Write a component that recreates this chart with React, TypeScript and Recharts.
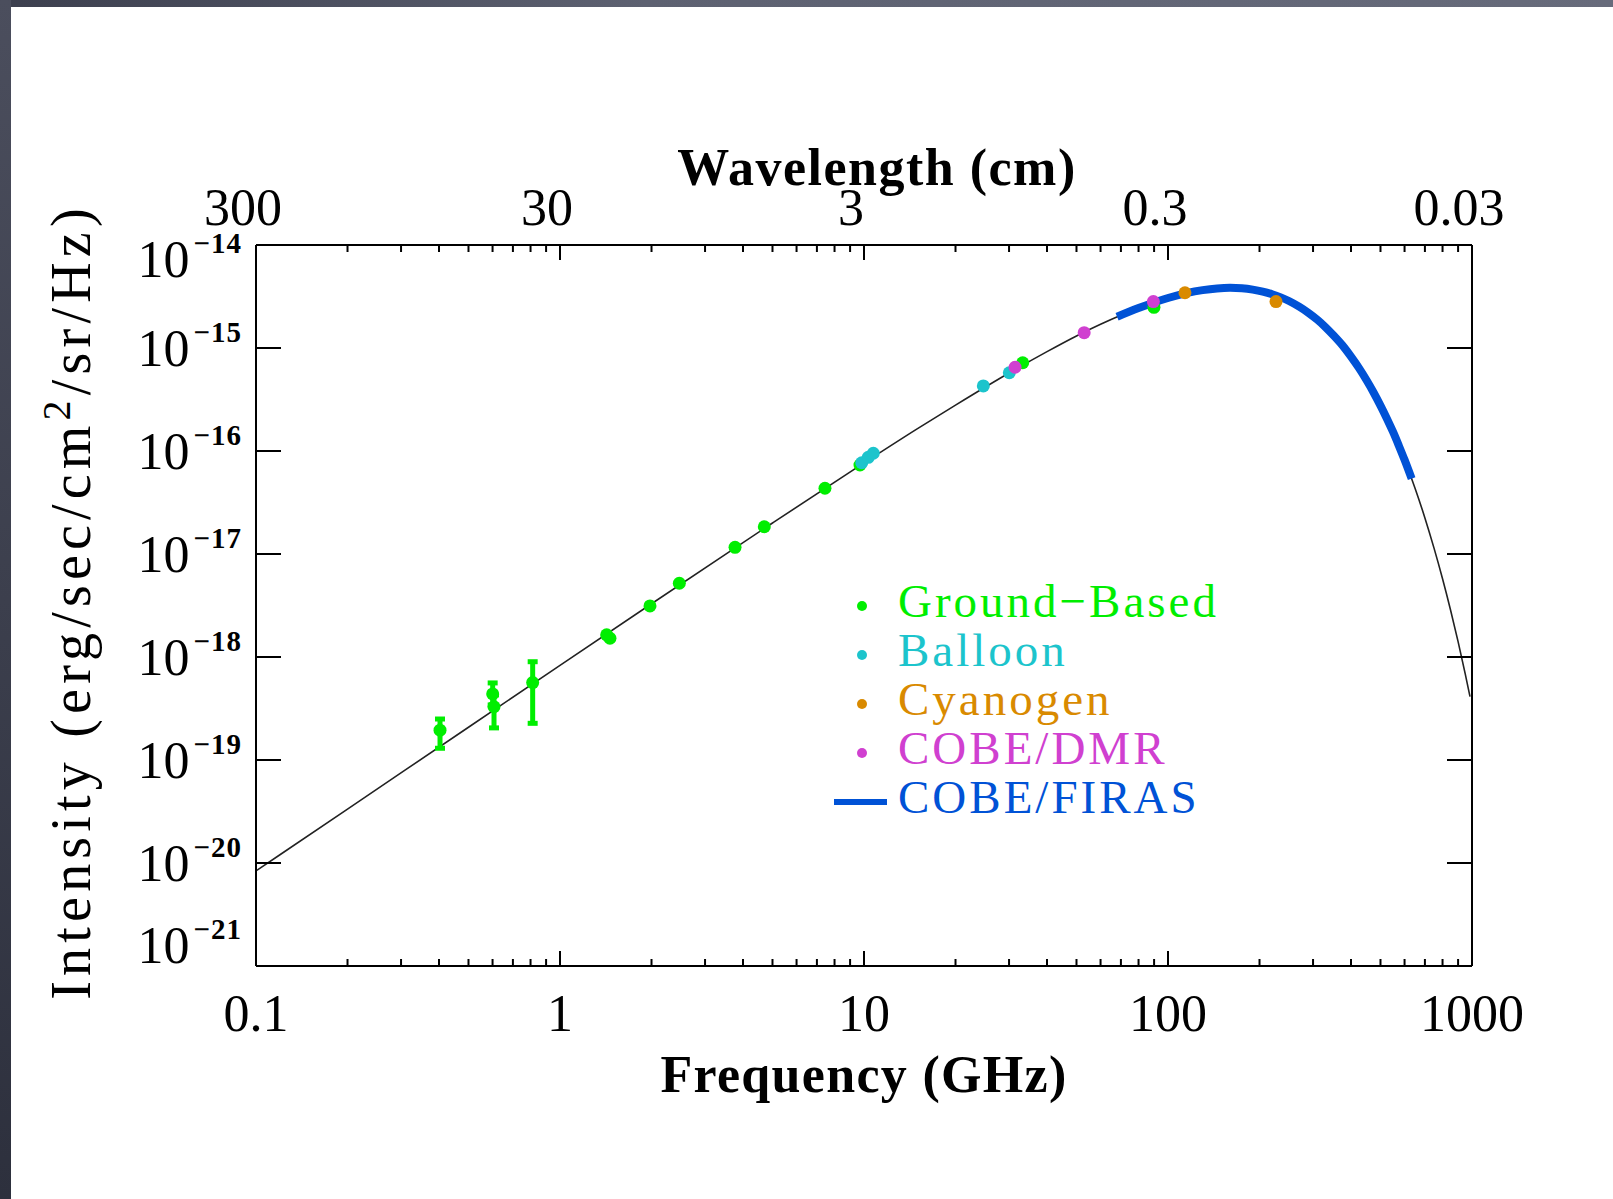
import React from 'react';
import { ComposedChart, Line, Scatter, XAxis, YAxis, ErrorBar, Legend, Label } from 'recharts';

// ---------- data ----------
// Blackbody curve (black line): frequency (GHz) / intensity (erg/s/cm^2/sr/Hz)
const CURVE_FREQ = [0.1, 0.2, 0.5, 1, 2, 5, 10, 15, 20, 30, 40, 50, 60, 70, 85, 100, 120, 140, 160, 180, 200, 225, 250, 275, 300, 350, 400, 450, 500, 550, 600, 650, 700, 750, 800, 850, 900, 950, 985];
const CURVE_INTENSITY = [8.37e-21, 3.34e-20, 2.08e-19, 8.3e-19, 3.29e-18, 2.0e-17, 7.66e-17, 1.65e-16, 2.79e-16, 5.72e-16, 9.23e-16, 1.31e-15, 1.7e-15, 2.08e-15, 2.61e-15, 3.06e-15, 3.5e-15, 3.76e-15, 3.84e-15, 3.77e-15, 3.59e-15, 3.26e-15, 2.86e-15, 2.44e-15, 2.03e-15, 1.33e-15, 8.24e-16, 4.86e-16, 2.76e-16, 1.53e-16, 8.21e-17, 4.33e-17, 2.24e-17, 1.14e-17, 5.75e-18, 2.86e-18, 1.41e-18, 6.85e-19, 4.12e-19];

// COBE/FIRAS (thick blue band)
const FIRAS_FREQ = [68, 80, 90, 100, 115, 130, 145, 160, 175, 190, 205, 220, 235, 250, 270, 290, 310, 330, 350, 375, 400, 425, 450, 475, 500, 525, 550, 575, 600, 633];
const FIRAS_INTENSITY = [2.01e-15, 2.44e-15, 2.77e-15, 3.06e-15, 3.41e-15, 3.65e-15, 3.79e-15, 3.84e-15, 3.8e-15, 3.69e-15, 3.53e-15, 3.33e-15, 3.1e-15, 2.86e-15, 2.52e-15, 2.19e-15, 1.88e-15, 1.59e-15, 1.33e-15, 1.06e-15, 8.24e-16, 6.37e-16, 4.86e-16, 3.68e-16, 2.76e-16, 2.06e-16, 1.53e-16, 1.12e-16, 8.21e-17, 5.39e-17];

// Ground-based points without visible error bars
const GROUND_FREQ = [1.424, 1.46, 1.977, 2.469, 3.765, 4.699, 7.44, 9.7, 33.27, 89.9];
const GROUND_INTENSITY = [1.64e-18, 1.52e-18, 3.13e-18, 5.2e-18, 1.16e-17, 1.84e-17, 4.35e-17, 7.31e-17, 7.19e-16, 2.48e-15];
// Ground-based points with error bars
const GROUND_ERR_FREQ = [0.403, 0.6005, 0.6066, 0.813];
const GROUND_ERR_INTENSITY = [1.95e-19, 4.38e-19, 3.29e-19, 5.64e-19];
const GROUND_ERR_LOW = [1.3e-19, 3.42e-19, 2.05e-19, 2.27e-19];
const GROUND_ERR_HIGH = [2.5e-19, 5.6e-19, 4.28e-19, 9.0e-19];

const BALLOON_FREQ = [9.83, 10.33, 10.73, 24.69, 30.06];
const BALLOON_INTENSITY = [7.69e-17, 8.69e-17, 9.51e-17, 4.28e-16, 5.75e-16];

const CYANOGEN_FREQ = [113.7, 226.6];
const CYANOGEN_INTENSITY = [3.44e-15, 2.82e-15];

const DMR_FREQ = [31.4, 53.0, 89.5];
const DMR_INTENSITY = [6.5e-16, 1.41e-15, 2.82e-15];

// ---------- ticks / labels ----------
const FREQ_TICKS = [0.1, 0.2, 0.3, 0.4, 0.5, 0.6, 0.7, 0.8, 0.9, 1, 2, 3, 4, 5, 6, 7, 8, 9, 10, 20, 30, 40, 50, 60, 70, 80, 90, 100, 200, 300, 400, 500, 600, 700, 800, 900, 1000];
const MAJOR_FREQ = [0.1, 1, 10, 100, 1000];
const FREQ_LABELS = ['0.1', '1', '10', '100', '1000'];
const WAVELENGTH_LABELS = ['300', '30', '3', '0.3', '0.03'];
const INTENSITY_TICKS = [1e-21, 1e-20, 1e-19, 1e-18, 1e-17, 1e-16, 1e-15, 1e-14];
const INTENSITY_EXPONENTS = ['\u221221', '\u221220', '\u221219', '\u221218', '\u221217', '\u221216', '\u221215', '\u221214'];

const LEGEND_NAMES = ['Ground\u2212Based', 'Balloon', 'Cyanogen', 'COBE/DMR', 'COBE/FIRAS'];
const COLORS = { ground: '#00ee00', balloon: '#1cc4cc', cyanogen: '#d98a00', dmr: '#d040d0', firas: '#0052d6' };
const LEGEND_COLORS = [COLORS.ground, COLORS.balloon, COLORS.cyanogen, COLORS.dmr, COLORS.firas];

// ---------- tables built from the arrays ----------
const pairs = (f: number[], v: number[]) => f.map((nu, i) => ({ nu, I: v[i] }));
const curveData = pairs(CURVE_FREQ, CURVE_INTENSITY);
const firasData = pairs(FIRAS_FREQ, FIRAS_INTENSITY);
const groundData = pairs(GROUND_FREQ, GROUND_INTENSITY);
const groundErrData = GROUND_ERR_FREQ.map((nu, i) => ({
  nu,
  I: GROUND_ERR_INTENSITY[i],
  err: [GROUND_ERR_INTENSITY[i] - GROUND_ERR_LOW[i], GROUND_ERR_HIGH[i] - GROUND_ERR_INTENSITY[i]],
}));
const balloonData = pairs(BALLOON_FREQ, BALLOON_INTENSITY);
const cyanogenData = pairs(CYANOGEN_FREQ, CYANOGEN_INTENSITY);
const dmrData = pairs(DMR_FREQ, DMR_INTENSITY);

const SERIF = '"Liberation Serif", "DejaVu Serif", serif';

const dot = (color: string) => (p: any) => <circle cx={p.cx} cy={p.cy} r={6.5} fill={color} />;

const BottomTick = (p: any) => {
  const idx = MAJOR_FREQ.indexOf(p.payload.value);
  const major = idx >= 0;
  return (
    <g>
      <line x1={p.x} x2={p.x} y1={p.y} y2={p.y - (major ? 15 : 7)} stroke="#000" strokeWidth={2} />
      {major && (
        <text x={p.x} y={p.y + 65} textAnchor="middle" fontFamily={SERIF} fontSize={52} fill="#000">
          {FREQ_LABELS[idx]}
        </text>
      )}
    </g>
  );
};

const TopTick = (p: any) => {
  const idx = MAJOR_FREQ.indexOf(p.payload.value);
  const major = idx >= 0;
  return (
    <g>
      <line x1={p.x} x2={p.x} y1={p.y} y2={p.y + (major ? 15 : 7)} stroke="#000" strokeWidth={2} />
      {major && (
        <text x={p.x - 13} y={p.y - 20} textAnchor="middle" fontFamily={SERIF} fontSize={52} fill="#000">
          {WAVELENGTH_LABELS[idx]}
        </text>
      )}
    </g>
  );
};

const LeftTick = (p: any) => {
  const idx = INTENSITY_TICKS.indexOf(p.payload.value);
  const base = idx === 0 ? -3 : idx === INTENSITY_TICKS.length - 1 ? 32 : 18;
  return (
    <g>
      <line x1={p.x} x2={p.x + 25} y1={p.y} y2={p.y} stroke="#000" strokeWidth={2} />
      <text x={p.x - 14} y={p.y + base} textAnchor="end" fontFamily={SERIF} fontSize={52} fill="#000">
        <tspan>10</tspan>
        <tspan dx={4} dy={-24} fontSize={29} fontWeight="bold" letterSpacing={1}>{INTENSITY_EXPONENTS[idx]}</tspan>
      </text>
    </g>
  );
};

const RightTick = (p: any) => (
  <line x1={p.x} x2={p.x - 25} y1={p.y} y2={p.y} stroke="#000" strokeWidth={2} />
);

const LegendContent = () => (
  <div style={{ fontFamily: SERIF, fontSize: 47, letterSpacing: 3 }}>
    {LEGEND_NAMES.map((name, i) => (
      <div key={name} style={{ display: 'flex', alignItems: 'center', height: 49 }}>
        <svg width={70} height={49} style={{ display: 'block', flex: 'none' }}>
          {i < 4 ? (
            <circle cx={42} cy={29} r={5} fill={LEGEND_COLORS[i]} />
          ) : (
            <line x1={14} x2={67} y1={29} y2={29} stroke={LEGEND_COLORS[i]} strokeWidth={6} />
          )}
        </svg>
        <span style={{ color: LEGEND_COLORS[i], lineHeight: '49px', marginLeft: 8, whiteSpace: 'nowrap' }}>{name}</span>
      </div>
    ))}
  </div>
);

const axisLine = { stroke: '#000', strokeWidth: 2 };

export default function App() {
  return (
    <div style={{ position: 'absolute', left: 0, top: 0, width: 1613, height: 1199, background: '#fff', overflow: 'hidden' }}>
      <div style={{ position: 'absolute', left: 0, top: 0 }}>
        <ComposedChart width={1613} height={1199} margin={{ top: 205, right: 131, bottom: 173, left: 136 }}>
          <XAxis
            dataKey="nu"
            type="number"
            scale="log"
            domain={[0.1, 1000]}
            allowDataOverflow
            ticks={FREQ_TICKS}
            interval={0}
            tick={BottomTick}
            tickLine={false}
            tickSize={0}
            tickMargin={0}
            axisLine={axisLine}
            height={60}
          >
            <Label
              content={(p: any) => {
                const vb = p.viewBox || { x: 256, y: 966, width: 1216, height: 60 };
                return (
                  <text x={vb.x + vb.width / 2} y={vb.y + 126} textAnchor="middle" fontFamily={SERIF} fontWeight="bold" fontSize={52} letterSpacing={1.3} fill="#000">
                    Frequency (GHz)
                  </text>
                );
              }}
            />
          </XAxis>
          <XAxis
            xAxisId="top"
            orientation="top"
            dataKey="nu"
            type="number"
            scale="log"
            domain={[0.1, 1000]}
            allowDataOverflow
            ticks={FREQ_TICKS}
            interval={0}
            tick={TopTick}
            tickLine={false}
            tickSize={0}
            tickMargin={0}
            axisLine={axisLine}
            height={40}
          >
            <Label
              content={(p: any) => {
                const vb = p.viewBox || { x: 256, y: 205, width: 1216, height: 40 };
                return (
                  <text x={vb.x + vb.width / 2 + 13} y={vb.y + vb.height - 60} textAnchor="middle" fontFamily={SERIF} fontWeight="bold" fontSize={52} letterSpacing={1.5} fill="#000">
                    Wavelength (cm)
                  </text>
                );
              }}
            />
          </XAxis>
          <YAxis
            type="number"
            scale="log"
            domain={[1e-21, 1e-14]}
            allowDataOverflow
            ticks={INTENSITY_TICKS}
            interval={0}
            tick={LeftTick}
            tickLine={false}
            tickSize={0}
            tickMargin={0}
            axisLine={axisLine}
            width={120}
          >
            <Label
              content={(p: any) => {
                const vb = p.viewBox || { x: 136, y: 245, width: 120, height: 721 };
                const cx = vb.x - 46;
                const cy = vb.y + vb.height / 2 - 4;
                return (
                  <text transform={`rotate(-90 ${cx} ${cy})`} x={cx} y={cy} textAnchor="middle" fontFamily={SERIF} fontSize={56} letterSpacing={5.2} fill="#000">
                    <tspan>Intensity (erg/sec/cm</tspan>
                    <tspan dy={-20} fontSize={40}>2</tspan>
                    <tspan dy={20}>/sr/Hz)</tspan>
                  </text>
                );
              }}
            />
          </YAxis>
          <YAxis
            yAxisId="right"
            orientation="right"
            type="number"
            scale="log"
            domain={[1e-21, 1e-14]}
            allowDataOverflow
            ticks={INTENSITY_TICKS}
            interval={0}
            tick={RightTick}
            tickLine={false}
            tickSize={0}
            tickMargin={0}
            axisLine={axisLine}
            width={10}
          />
          <Line data={curveData} dataKey="I" type="monotone" stroke="#222" strokeWidth={1.6} dot={false} isAnimationActive={false} legendType="none" />
          <Scatter name="Ground-Based" data={groundErrData} dataKey="I" fill={COLORS.ground} shape={dot(COLORS.ground)} isAnimationActive={false} legendType="none">
            <ErrorBar dataKey="err" direction="y" stroke={COLORS.ground} strokeWidth={5} width={5} isAnimationActive={false} />
          </Scatter>
          <Scatter name="Ground-Based" data={groundData} dataKey="I" fill={COLORS.ground} shape={dot(COLORS.ground)} isAnimationActive={false} />
          <Scatter name="Balloon" data={balloonData} dataKey="I" fill={COLORS.balloon} shape={dot(COLORS.balloon)} isAnimationActive={false} />
          <Scatter name="Cyanogen" data={cyanogenData} dataKey="I" fill={COLORS.cyanogen} shape={dot(COLORS.cyanogen)} isAnimationActive={false} />
          <Scatter name="COBE/DMR" data={dmrData} dataKey="I" fill={COLORS.dmr} shape={dot(COLORS.dmr)} isAnimationActive={false} />
          <Line name="COBE/FIRAS" data={firasData} dataKey="I" type="monotone" stroke={COLORS.firas} strokeWidth={8} dot={false} isAnimationActive={false} />
          <Legend
            layout="horizontal"
            verticalAlign="middle"
            align="center"
            content={LegendContent}
            wrapperStyle={{ left: 820, top: 577, bottom: 'auto', right: 'auto', width: 440, height: 250 }}
          />
        </ComposedChart>
      </div>
      <div style={{ position: 'absolute', left: 0, top: 0, width: 1613, height: 7, background: 'linear-gradient(90deg,#3c3f4e,#5d6171 40%,#676b7b)' }} />
      <div style={{ position: 'absolute', left: 0, top: 0, width: 11, height: 1199, background: 'linear-gradient(180deg,#4b4e5d,#2d303d)' }} />
    </div>
  );
}
